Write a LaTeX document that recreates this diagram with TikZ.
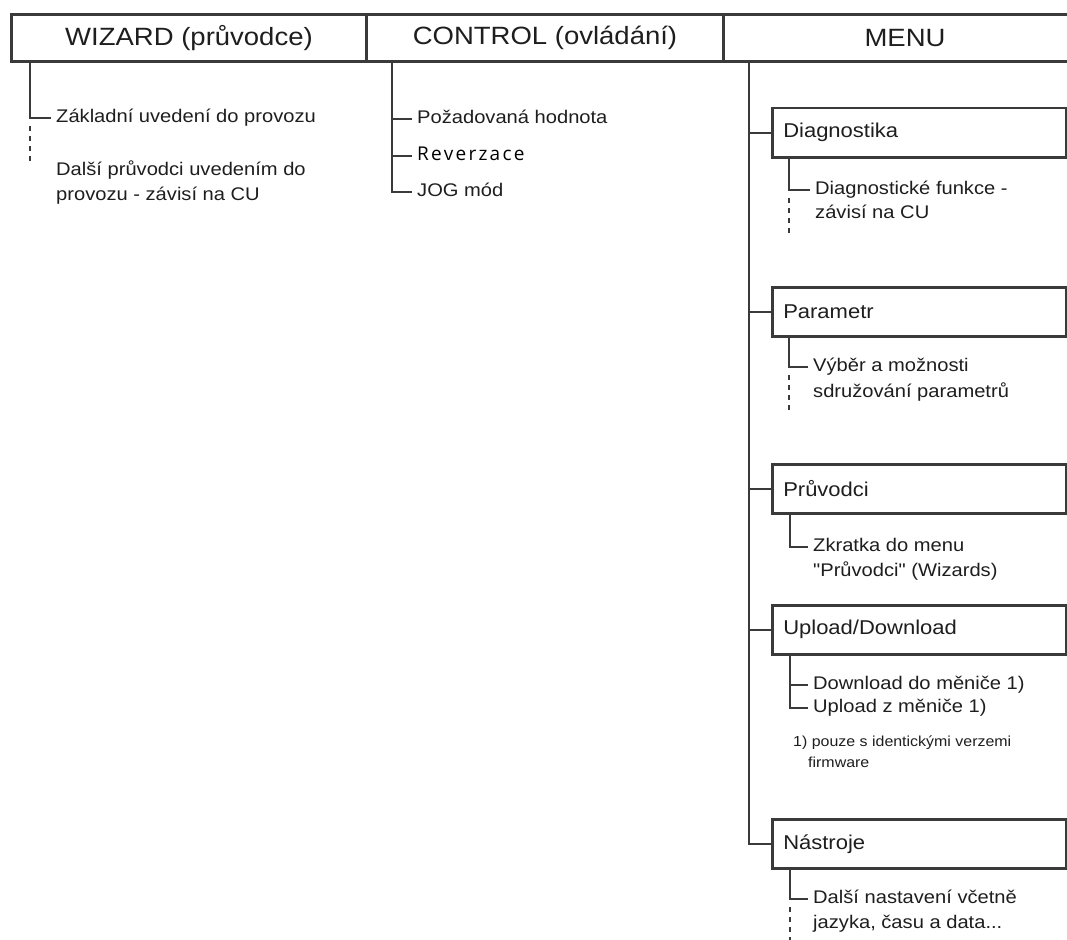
\documentclass[tikz,border=0pt]{standalone}
\usepackage{fontspec}
\setmainfont{Liberation Sans}[FakeStretch=1.1]
\newfontfamily\plainq{Liberation Sans}[FakeStretch=1.1]
\newfontfamily\revfont{Open Sans}[LetterSpace=12]
\definecolor{txt}{HTML}{1E1E1E}
\definecolor{ln}{HTML}{3A3A3A}
\begin{document}
\begin{tikzpicture}[x=1pt,y=-1pt,
  head/.style={draw=ln, line width=3pt, minimum height=47pt, anchor=north west, inner sep=0pt, font=\fontsize{25}{30}\selectfont, text=txt},
  mbox/.style={draw=ln, line width=2.5pt, minimum height=49pt, anchor=north west, text width=272pt, inner xsep=11pt, inner ysep=0pt, align=left, font=\fontsize{20}{24}\selectfont, text=txt},
  item/.style={anchor=west, inner xsep=5pt, inner ysep=0pt, text height=13pt, text depth=4pt, font=\fontsize{18.3}{22}\selectfont, text=txt},
  note/.style={anchor=west, inner sep=0pt, font=\fontsize{14.5}{18}\selectfont, text=txt},
  tree/.style={draw=ln, line width=1.6pt},
  dots/.style={draw=ln, line width=1.5pt, dash pattern=on 5pt off 5pt}]
\useasboundingbox[fill=white] (0,0) rectangle (1067,939);

% headers
\node[head, minimum width=355pt] (wiz) at (10,13) {WIZARD (průvodce)};
\node[head, minimum width=357pt] (ctl) at (365,13) {CONTROL (ovládání)};
\node[head, minimum width=363pt] (menu) at (722,13) {MENU};

% WIZARD
\coordinate (w0) at (30,60);
\node[item] (w1) at (51,118) {Základní uvedení do provozu};
\node[item] (w2) at (51,171) {Další průvodci uvedením do};
\node[item] (w2b) at (51,196) {provozu - závisí na CU};
\draw[tree] (w0) |- (w1.west);
\coordinate (wd0) at (30,126);
\coordinate (wd1) at (30,163);
\draw[dots] (wd0) -- (wd1);

% CONTROL
\coordinate (c0) at (392,60);
\node[item] (c1) at (412,119) {Požadovaná hodnota};
\node[item, font={\revfont\fontsize{19}{22}\selectfont}, text=black] (c2) at (412,156) {Reverzace};
\node[item] (c3) at (412,192) {JOG mód};
\draw[tree] (c0) |- (c3.west);
\draw[tree] (c1.west) -- (c1.west -| c0);
\draw[tree] (c2.west) -- (c2.west -| c0);

% MENU boxes
\coordinate (m0) at (749,60);
\node[mbox] (diag) at (771,107) {Diagnostika};
\node[mbox] (par) at (771,286) {Parametr};
\node[mbox] (pru) at (771,463) {Průvodci};
\node[mbox] (upl) at (771,604) {Upload/Download};
\node[mbox] (nas) at (771,818) {Nástroje};
\draw[tree] (m0) |- (nas.west);
\draw[tree] (diag.west) -- (diag.west -| m0);
\draw[tree] (par.west) -- (par.west -| m0);
\draw[tree] (pru.west) -- (pru.west -| m0);
\draw[tree] (upl.west) -- (upl.west -| m0);

% Diagnostika
\coordinate (d0) at (789,156);
\node[item] (d1) at (810,190) {Diagnostické funkce -};
\node[item] (d1b) at (810,214) {závisí na CU};
\draw[tree] (d0) |- (d1.west);
\coordinate (dd0) at (789,198);
\coordinate (dd1) at (789,233);
\draw[dots] (dd0) -- (dd1);

% Parametr
\coordinate (p0) at (789,336);
\node[item] (p1) at (808,367) {Výběr a možnosti};
\node[item] (p1b) at (808,393) {sdružování parametrů};
\draw[tree] (p0) |- (p1.west);
\coordinate (pd0) at (789,375);
\coordinate (pd1) at (789,413);
\draw[dots] (pd0) -- (pd1);

% Pruvodci
\coordinate (r0) at (790,512);
\node[item] (r1) at (808,547) {Zkratka do menu};
\node[item] (r1b) at (808,572) {{\plainq"}Průvodci{\plainq"} (Wizards)};
\draw[tree] (r0) |- (r1.west);

% Upload/Download
\coordinate (u0) at (790,653);
\node[item] (u1) at (808,685) {Download do měniče 1)};
\node[item] (u2) at (808,708) {Upload z měniče 1)};
\draw[tree] (u0) |- (u2.west);
\draw[tree] (u1.west) -- (u1.west -| u0);
\node[note] (fn1) at (793,743) {1) pouze s identickými verzemi};
\node[note] (fn2) at (808,762) {firmware};

% Nastroje
\coordinate (n0) at (790,868);
\node[item] (n1) at (808,899) {Další nastavení včetně};
\node[item] (n1b) at (808,924) {jazyka, času a data...};
\draw[tree] (n0) |- (n1.west);
\coordinate (nd0) at (790,907);
\coordinate (nd1) at (790,945);
\draw[dots] (nd0) -- (nd1);
\end{tikzpicture}
\end{document}
